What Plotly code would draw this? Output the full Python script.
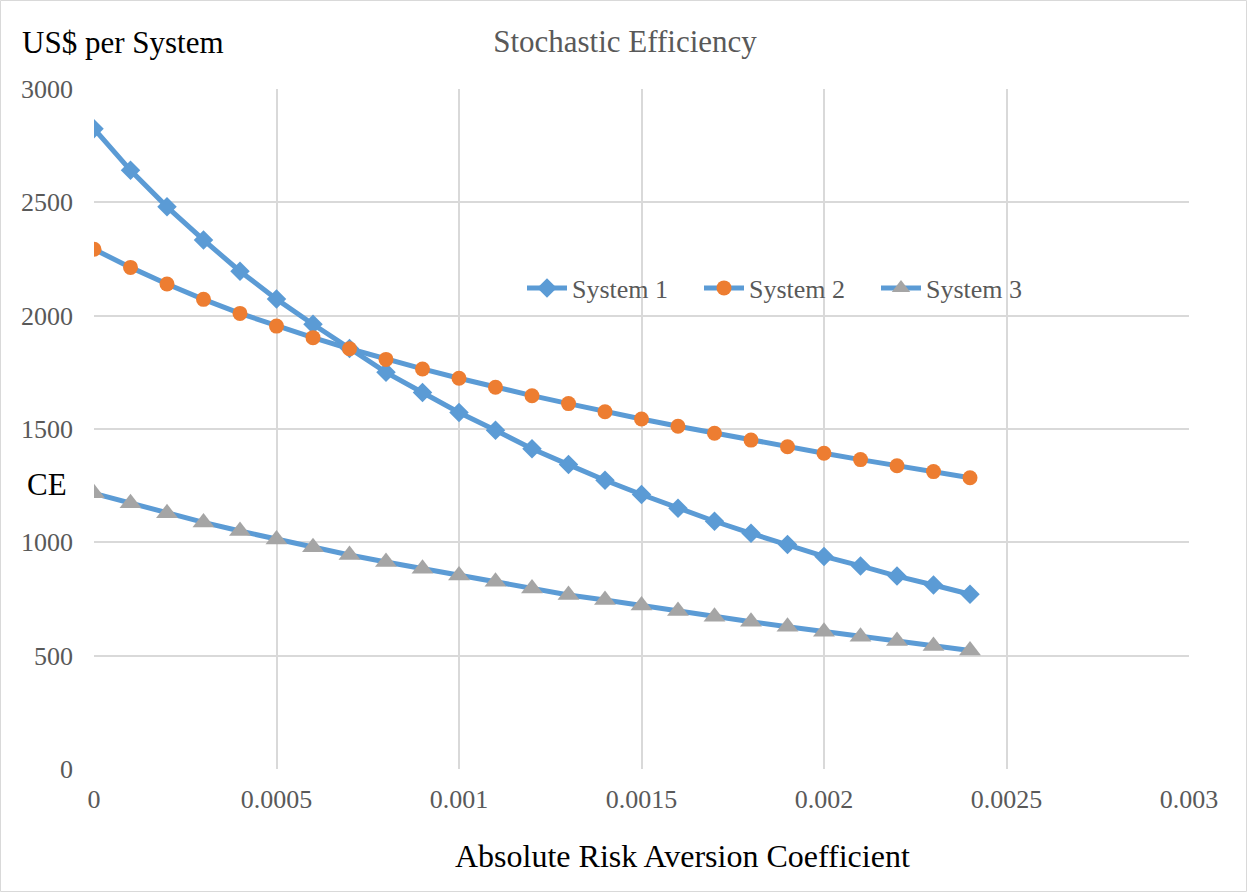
import plotly.graph_objects as go

x_vals = [0, 0.0001, 0.0002, 0.0003, 0.0004, 0.0005, 0.0006, 0.0007, 0.0008, 0.0009,
          0.0010, 0.0011, 0.0012, 0.0013, 0.0014, 0.0015, 0.0016, 0.0017, 0.0018, 0.0019,
          0.0020, 0.0021, 0.0022, 0.0023, 0.0024]
system1 = [2825, 2641, 2480, 2334, 2196, 2073, 1962, 1855, 1750, 1661,
           1573, 1494, 1413, 1343, 1274, 1211, 1150, 1093, 1040, 990,
           938, 896, 851, 812, 771]
system2 = [2293, 2213, 2140, 2072, 2010, 1954, 1903, 1854, 1807, 1765,
           1724, 1684, 1647, 1612, 1576, 1544, 1512, 1481, 1451, 1422,
           1393, 1365, 1338, 1312, 1285]
system3 = [1216, 1172, 1128, 1088, 1050, 1013, 978, 944, 913, 884,
           854, 826, 796, 768, 746, 721, 697, 672, 650, 628,
           606, 584, 565, 543, 523]

x_ticks = [0, 0.0005, 0.001, 0.0015, 0.002, 0.0025, 0.003]
x_tick_text = ["0", "0.0005", "0.001", "0.0015", "0.002", "0.0025", "0.003"]
y_ticks = [0, 500, 1000, 1500, 2000, 2500, 3000]

LINE = "#5B9BD5"
FONT = "Liberation Serif, Times New Roman, serif"

fig = go.Figure()
fig.add_trace(go.Scatter(x=x_vals, y=system1, name="System 1", mode="lines+markers",
                         line=dict(color=LINE, width=5),
                         marker=dict(symbol="diamond", size=15, color="#5B9BD5", line=dict(width=0))))
fig.add_trace(go.Scatter(x=x_vals, y=system2, name="System 2", mode="lines+markers",
                         line=dict(color=LINE, width=5),
                         marker=dict(symbol="circle", size=15, color="#ED7D31", line=dict(width=0))))
fig.add_trace(go.Scatter(x=x_vals, y=system3, name="System 3", mode="lines+markers",
                         line=dict(color=LINE, width=5),
                         marker=dict(symbol="triangle-up", size=19, color="#A5A5A5", line=dict(width=0))))

W, H = 1247, 892
L, R, T, B = 94, 58, 89, 123
pw, ph = W - L - R, H - T - B

def px(xp):
    return (xp - L) / pw

def py(yp):
    return (H - B - yp) / ph

fig.update_layout(
    width=W, height=H,
    margin=dict(l=L, r=R, t=T, b=B),
    paper_bgcolor="white", plot_bgcolor="white",
    font=dict(family=FONT, color="#595959", size=26),
    title=dict(text="Stochastic Efficiency", x=625 / W, xanchor="center",
               y=1 - 41 / H, yanchor="middle",
               font=dict(family=FONT, size=31, color="#595959")),
    showlegend=True,
    legend=dict(orientation="h", x=px(522), y=py(288), xanchor="left", yanchor="middle",
                bgcolor="rgba(0,0,0,0)", font=dict(family=FONT, size=26, color="#595959"),
                itemwidth=40, entrywidth=122, entrywidthmode="pixels", tracegroupgap=0),
    xaxis=dict(range=[0, 0.003], tickvals=x_ticks, ticktext=x_tick_text,
               showgrid=True, gridcolor="#D9D9D9", gridwidth=1.5,
               zeroline=False, showline=False, ticks="",
               tickfont=dict(family=FONT, size=26, color="#595959"),
               ticklabelstandoff=12),
    yaxis=dict(range=[0, 3000], tickvals=y_ticks,
               showgrid=True, gridcolor="#D9D9D9", gridwidth=1.5,
               zeroline=False, showline=False, ticks="",
               tickfont=dict(family=FONT, size=26, color="#595959"),
               ticklabelstandoff=20),
    annotations=[
        dict(text="US$ per System", xref="paper", yref="paper", x=px(20), y=py(42),
             xanchor="left", yanchor="middle", showarrow=False,
             font=dict(family=FONT, size=31, color="black")),
        dict(text="CE", xref="paper", yref="paper", x=px(47), y=py(485),
             xanchor="center", yanchor="middle", showarrow=False,
             font=dict(family=FONT, size=31, color="black")),
        dict(text="Absolute Risk Aversion Coefficient", xref="paper", yref="paper",
             x=px(682), y=py(856), xanchor="center", yanchor="middle", showarrow=False,
             font=dict(family=FONT, size=32, color="black")),
    ],
    shapes=[dict(type="rect", xref="paper", yref="paper",
                 x0=px(0.5), x1=px(W - 0.5), y0=py(H - 0.5), y1=py(0.5),
                 line=dict(color="#D9D9D9", width=1), fillcolor="rgba(0,0,0,0)", layer="below")],
)

fig.write_html("out.html", config={"displayModeBar": False},
               post_script="document.body.style.margin='0';document.body.style.overflow='hidden';")
